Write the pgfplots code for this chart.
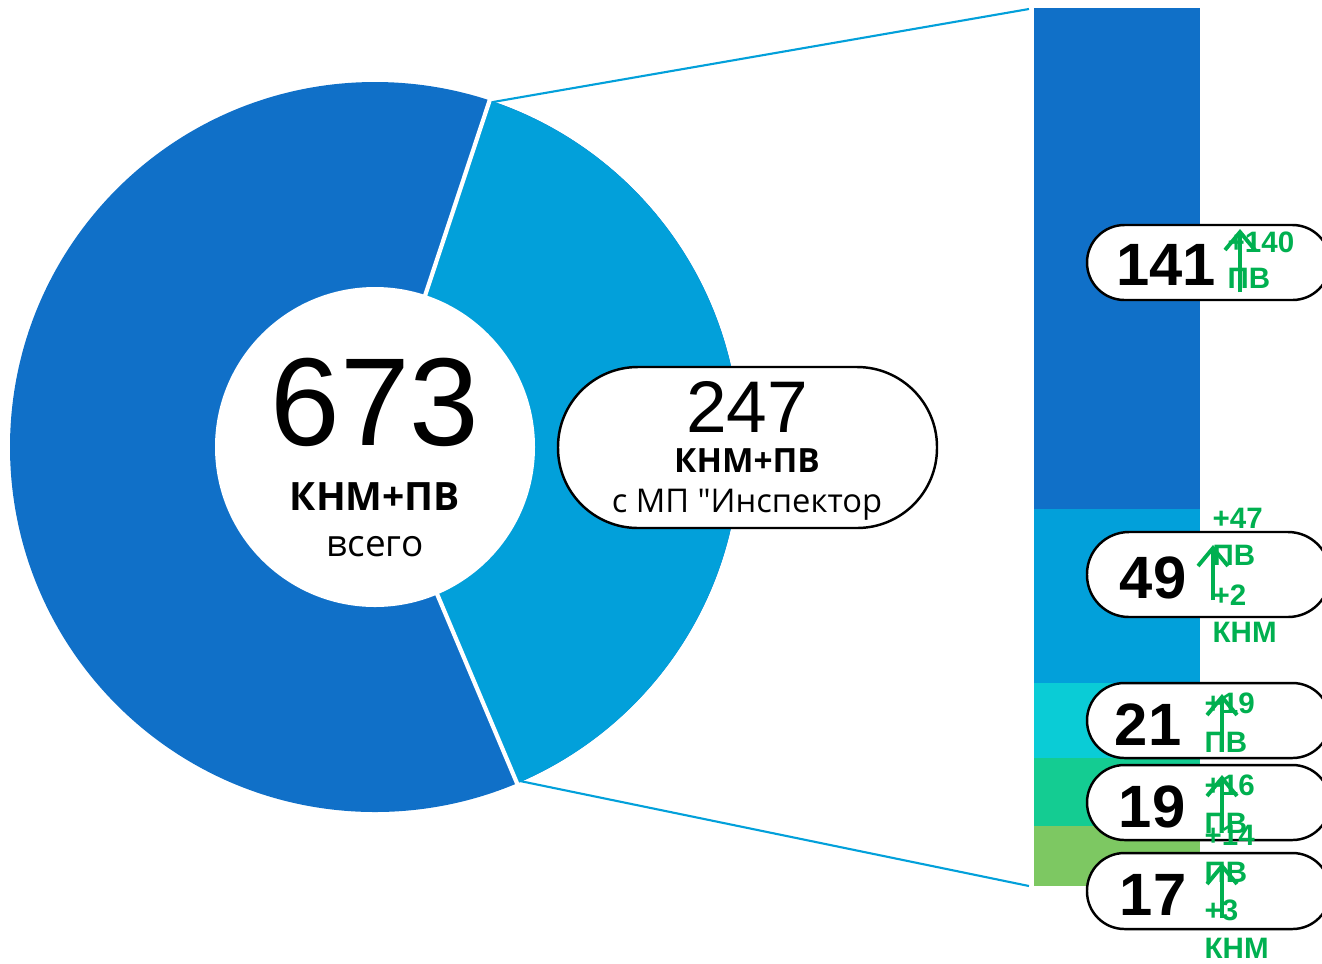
\documentclass[border=0pt]{standalone}
\usepackage{pgfplots}
\pgfplotsset{compat=1.18}
\usepackage{fontspec}
\setmainfont{Open Sans}[Ligatures=TeXOff]
\newfontfamily\arialf{Liberation Sans}
\definecolor{cDark}{HTML}{1070C8}
\definecolor{cLight}{HTML}{02A0DA}
\definecolor{cCyan}{HTML}{0ACCD6}
\definecolor{cTeal}{HTML}{14CC92}
\definecolor{cGreen}{HTML}{7DC862}
\definecolor{cTxt}{HTML}{00B050}
\tikzset{
  pill/.style={draw=black, line width=0.7pt, fill=white},
  gt/.style={text=cTxt, font=\arialf\bfseries\fontsize{8.4}{8.4}\selectfont, inner sep=0pt, anchor=base west},
  num/.style={font=\arialf\bfseries\fontsize{17}{17}\selectfont, inner sep=0pt, anchor=base},
  garrow/.style={cTxt, line width=1.1pt}
}
% green up arrow: x, tip y, bottom y (pixel units)
\newcommand\garr[3]{%
  \draw[garrow] (axis cs:#1,#3) -- (axis cs:#1,#2);
  \draw[garrow] (axis cs:#1-15,#2+18) -- (axis cs:#1,#2) -- (axis cs:#1+15,#2+18);
}
\begin{document}
\begin{tikzpicture}
% stacked bar: the 247 split into groups (bottom to top)
\begin{axis}[at={(10.34cm,0.77cm)}, anchor=south west,
  width=1.66cm, height=8.78cm, scale only axis, hide axis,
  ybar stacked, bar width=1.66cm, bar shift=0pt,
  xmin=-0.5, xmax=0.5, ymin=0, ymax=247, clip=false]
\addplot[fill=cGreen, draw=none] coordinates {(0,17)};
\addplot[fill=cTeal, draw=none] coordinates {(0,19)};
\addplot[fill=cCyan, draw=none] coordinates {(0,21)};
\addplot[fill=cLight, draw=none] coordinates {(0,49)};
\addplot[fill=cDark, draw=none] coordinates {(0,141)};
\end{axis}
% donut and labels, in pixel coordinates
\begin{axis}[at={(0,0)}, anchor=south west,
  width=13.22cm, height=9.63cm, scale only axis, hide axis,
  xmin=0, xmax=1322, ymin=0, ymax=963, y dir=reverse, clip=false]
\fill[cDark] (axis cs:375,447) circle[radius=3.65cm];
\fill[cLight] (axis cs:375,447) -- +(-67.1:3.65cm)
  arc[start angle=-67.1, end angle=71.7, radius=3.65cm] -- cycle;
\draw[white, line width=1.2pt] (axis cs:375,447) -- +(71.7:3.66cm);
\draw[white, line width=1.2pt] (axis cs:375,447) -- +(-67.1:3.66cm);
\fill[white] (axis cs:375,447) circle[radius=1.6cm];
\draw[cLight, line width=0.6pt] (axis cs:493,102) -- (axis cs:1029,9);
\draw[cLight, line width=0.6pt] (axis cs:520,781) -- (axis cs:1029,886);
% centre text
\node[anchor=base, inner sep=0pt, font=\arialf\fontsize{35.6}{35.6}\selectfont] at (axis cs:375,445) {673};
\node[anchor=base, inner sep=0pt, font=\bfseries\fontsize{11.1}{11.1}\selectfont] at (axis cs:375,510) {КНМ+ПВ};
\node[anchor=base, inner sep=0pt, font=\fontsize{10.5}{10.5}\selectfont] at (axis cs:375,556) {всего};
% 247 pill
\draw[pill, rounded corners=8mm] (axis cs:558,367) rectangle (axis cs:937,528);
\node[anchor=base, inner sep=0pt, font=\arialf\fontsize{20.8}{20.8}\selectfont] at (axis cs:747,432) {247};
\node[anchor=base, inner sep=0pt, font=\bfseries\fontsize{9.5}{9.5}\selectfont] at (axis cs:747,472) {КНМ+ПВ};
\node[anchor=base, inner sep=0pt, font=\fontsize{9.3}{9.3}\selectfont] at (axis cs:747,512) {с МП "Инспектор};
% right pills
\draw[pill, rounded corners=3.75mm] (axis cs:1087,225) rectangle (axis cs:1330,300);
\draw[pill, rounded corners=4.2mm] (axis cs:1087,532) rectangle (axis cs:1330,617);
\draw[pill, rounded corners=3.75mm] (axis cs:1087,683) rectangle (axis cs:1330,758);
\draw[pill, rounded corners=3.75mm] (axis cs:1087,765) rectangle (axis cs:1330,840);
\draw[pill, rounded corners=3.75mm] (axis cs:1087,853) rectangle (axis cs:1330,929);
\node[num] at (axis cs:1166,285) {141};
\node[num] at (axis cs:1153,598) {49};
\node[num] at (axis cs:1148,745) {21};
\node[num] at (axis cs:1152,827) {19};
\node[num] at (axis cs:1153,915) {17};
% green annotations
\node[gt] at (axis cs:1227,252) {+140};
\node[gt] at (axis cs:1227,288) {ПВ};
\garr{1240}{232}{292}
\node[gt] at (axis cs:1212,528) {+47};
\node[gt] at (axis cs:1212,565) {ПВ};
\node[gt] at (axis cs:1212,605) {+2};
\node[gt] at (axis cs:1212,642) {КНМ};
\garr{1213}{548}{600}
\node[gt] at (axis cs:1204,713) {+19};
\node[gt] at (axis cs:1204,752) {ПВ};
\garr{1222}{697}{752}
\node[gt] at (axis cs:1204,795) {+16};
\node[gt] at (axis cs:1204,833) {ПВ};
\garr{1222}{778}{830}
\node[gt] at (axis cs:1204,845) {+14};
\node[gt] at (axis cs:1204,882) {ПВ};
\node[gt] at (axis cs:1204,920) {+3};
\node[gt] at (axis cs:1204,958) {КНМ};
\garr{1222}{866}{918}
\end{axis}
\pgfresetboundingbox
\useasboundingbox (0,0) rectangle (13.22cm,9.63cm);
\end{tikzpicture}
\end{document}
